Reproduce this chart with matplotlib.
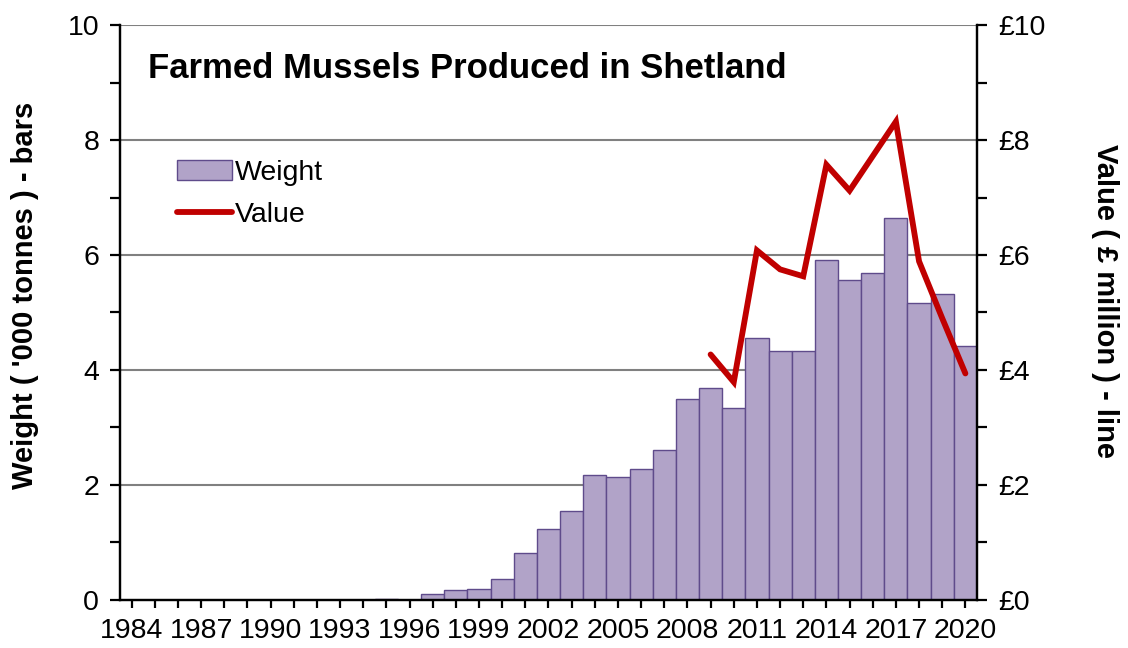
import matplotlib
matplotlib.use('Agg')
import matplotlib.pyplot as plt
from matplotlib.ticker import MultipleLocator, FuncFormatter
from matplotlib.patches import Patch
from matplotlib.lines import Line2D

plt.rcParams['font.family'] = ['Liberation Sans', 'DejaVu Sans']

years = list(range(1984, 2021))
weight = [0, 0, 0, 0, 0, 0, 0, 0, 0, 0, 0,      # 1984-1994
          0.02, 0, 0.10, 0.17, 0.19, 0.37,        # 1995-2000
          0.81, 1.23, 1.54, 2.18, 2.14, 2.27,     # 2001-2006
          2.60, 3.50, 3.69, 3.34, 4.56, 4.33,     # 2007-2012
          4.33, 5.91, 5.57, 5.68, 6.65, 5.16,     # 2013-2018
          5.33, 4.42]                              # 2019-2020
value_years = list(range(2009, 2021))
value = [4.27, 3.79, 6.08, 5.75, 5.63, 7.57, 7.12, 7.72, 8.32, 5.89, 4.90, 3.94]
label_years = list(range(1984, 2021, 3))

BAR_FC = '#b1a3c8'
BAR_EC = '#5f4b8b'
RED = '#c00000'
FS = 20.5

fig = plt.figure(figsize=(11.28, 6.48), dpi=100)
ax = fig.add_axes([0.1064, 0.0741, 0.7597, 0.8873])
ax2 = ax.twinx()

ax.bar(years, weight, width=1.0, color=BAR_FC, edgecolor=BAR_EC, linewidth=1.0, zorder=2)
ax2.plot(value_years, value, color=RED, lw=4.2, solid_capstyle='round',
         solid_joinstyle='miter', zorder=3)

ax.set_xlim(1983.5, 2020.5)
ax.set_ylim(0, 10)
ax2.set_ylim(0, 10)

# grid
for g in [2, 4, 6, 8, 10]:
    ax.axhline(g, color='#808080', lw=1.5, zorder=1)

ax.yaxis.set_major_locator(MultipleLocator(2))
ax.yaxis.set_minor_locator(MultipleLocator(1))
ax2.yaxis.set_major_locator(MultipleLocator(2))
ax2.yaxis.set_minor_locator(MultipleLocator(1))
ax2.yaxis.set_major_formatter(FuncFormatter(lambda v, p: '£%d' % v))

ax.set_xticks(label_years)
ax.set_xticklabels([str(y) for y in label_years])
ax.set_xticks(years, minor=True)

for a in (ax, ax2):
    a.spines['top'].set_visible(False)
    for s in a.spines.values():
        s.set_linewidth(1.6)
ax.tick_params(axis='both', which='both', direction='out', width=1.6, labelsize=FS)
ax.tick_params(axis='y', which='major', length=7, pad=8)
ax.tick_params(axis='y', which='minor', length=7)
ax.tick_params(axis='x', which='both', length=6, pad=7)
ax2.tick_params(axis='y', which='both', direction='out', width=1.6, length=7,
                labelsize=FS, pad=8)

ax.set_ylabel("Weight ( '000 tonnes ) - bars", fontsize=21, fontweight='bold', va='center')
ax.yaxis.set_label_coords(-0.111, 0.53)
ax2.set_ylabel("Value ( £ million ) - line", fontsize=21, fontweight='bold',
               rotation=-90, va='center')
ax2.yaxis.set_label_coords(1.149, 0.52)

ax.text(0.033, 0.925, 'Farmed Mussels Produced in Shetland', transform=ax.transAxes,
        fontsize=25, fontweight='bold', va='center', ha='left', zorder=5)

handles = [Patch(facecolor=BAR_FC, edgecolor=BAR_EC, linewidth=1.0),
           Line2D([], [], color=RED, lw=4.2, solid_capstyle='round')]
leg = ax.legend(handles, ['Weight', 'Value'], loc='upper left',
                bbox_to_anchor=(0.066, 0.765), frameon=False, fontsize=FS,
                handlelength=1.95, handletextpad=0.1, labelspacing=0.55,
                borderpad=0, borderaxespad=0)

ax.set_zorder(ax2.get_zorder() - 1)
ax.patch.set_visible(True)
ax2.patch.set_visible(False)

fig.savefig('out.png', dpi=100, facecolor='white')
